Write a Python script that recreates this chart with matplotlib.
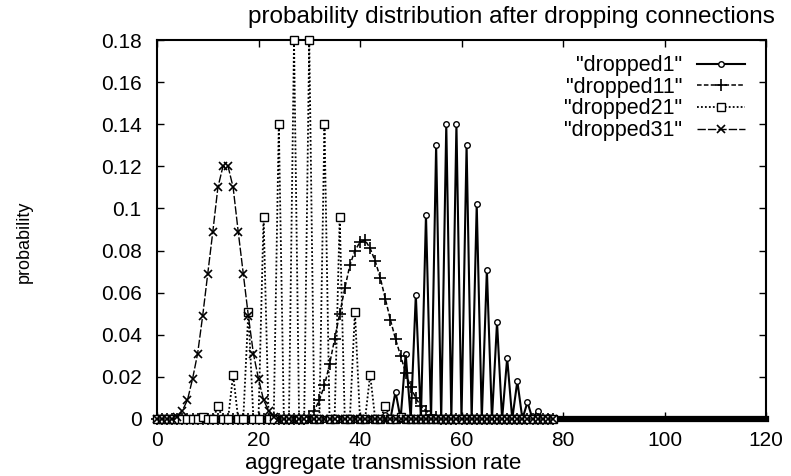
import numpy as np
import matplotlib
matplotlib.use("Agg")
import matplotlib.pyplot as plt

plt.rcParams["font.family"] = ["Liberation Sans", "DejaVu Sans"]

# integer grid the four runs were sampled on
grid = np.arange(0, 79)

# "dropped1": nonzero on odd rates only
d1_x = [45, 47, 49, 51, 53, 55, 57, 59, 61, 63, 65, 67, 69, 71, 73, 75, 77]
d1_p = [0.002, 0.013, 0.031, 0.059, 0.097, 0.130, 0.140, 0.140, 0.130,
        0.102, 0.071, 0.046, 0.029, 0.018, 0.008, 0.004, 0.001]

# "dropped11": smooth hump
d11_x = list(range(30, 56))
d11_p = [0.001, 0.004, 0.009, 0.016, 0.026, 0.038, 0.050, 0.062, 0.073, 0.080,
         0.084, 0.085, 0.081, 0.075, 0.067, 0.057, 0.047, 0.038, 0.030, 0.022,
         0.015, 0.010, 0.006, 0.004, 0.002, 0.001]

# "dropped21": nonzero every third rate
d21_x = [9, 12, 15, 18, 21, 24, 27, 30, 33, 36, 39, 42, 45, 48]
d21_p = [0.001, 0.006, 0.021, 0.051, 0.096, 0.140, 0.180, 0.180, 0.140,
         0.096, 0.051, 0.021, 0.006, 0.001]

# "dropped31": smooth hump at low rates
d31_x = list(range(4, 24))
d31_p = [0.001, 0.004, 0.009, 0.019, 0.031, 0.049, 0.069, 0.089, 0.110, 0.120,
         0.120, 0.110, 0.089, 0.069, 0.049, 0.031, 0.019, 0.009, 0.004, 0.001]

labels = ['"dropped1"', '"dropped11"', '"dropped21"', '"dropped31"']
x_ticks = [0, 20, 40, 60, 80, 100, 120]
y_ticks = [0, 0.02, 0.04, 0.06, 0.08, 0.1, 0.12, 0.14, 0.16, 0.18]
y_ticklabels = ["0", "0.02", "0.04", "0.06", "0.08", "0.1", "0.12", "0.14", "0.16", "0.18"]


def on_grid(xs, ps):
    full = np.zeros(len(grid))
    for x, p in zip(xs, ps):
        full[x - grid[0]] = p
    return full


fig = plt.figure(figsize=(7.91, 4.76), dpi=100)
ax = fig.add_axes([157 / 791, 57 / 476, 609 / 791, 379 / 476])

styles = [
    dict(ls="-", marker="o", ms=4, mfc="white", mew=1.0, lw=1.5),
    dict(ls=(0, (3, 1.5)), marker="+", ms=8, mew=1.2, lw=1.1),
    dict(ls=(0, (1, 1.2)), marker="s", ms=6, mfc="white", mew=1.0, lw=1.3),
    dict(ls=(0, (6, 1.5)), marker="x", ms=6, mew=1.2, lw=1.0),
]
series = [(d1_x, d1_p), (d11_x, d11_p), (d21_x, d21_p), (d31_x, d31_p)]

for (xs, ps), lab, st in zip(series, labels, styles):
    ax.plot(grid, on_grid(xs, ps), color="black", label=lab, clip_on=False,
            zorder=3, **st)

ax.set_xlim(0, 120)
ax.set_ylim(0, 0.18)
ax.set_xticks(x_ticks)
ax.set_yticks(y_ticks)
ax.set_yticklabels(y_ticklabels)
ax.tick_params(direction="in", top=True, right=True, length=5, width=1,
               labelsize=15, colors="black")
ax.tick_params(axis="y", pad=11)
ax.tick_params(axis="x", pad=9)
for side in ["left", "top", "right"]:
    ax.spines[side].set_linewidth(1.5)
ax.spines["bottom"].set_linewidth(4.5)

leg = ax.legend(loc="upper right", bbox_to_anchor=(0.965, 0.96), frameon=False,
                markerfirst=False, fontsize=15.5, handlelength=2.2,
                handletextpad=0.7, labelspacing=0.03, borderpad=0.0,
                borderaxespad=0.0)

fig.text(511 / 791, 1 - 17 / 476, "probability distribution after dropping connections",
         ha="center", va="center", fontsize=17.5)
fig.text(383 / 791, 1 - 463 / 476, "aggregate transmission rate",
         ha="center", va="center", fontsize=16)
fig.text(24 / 791, 1 - 242 / 476, "probability", rotation=90,
         ha="center", va="center", fontsize=13)

fig.savefig("out.png", dpi=100, facecolor="white")
